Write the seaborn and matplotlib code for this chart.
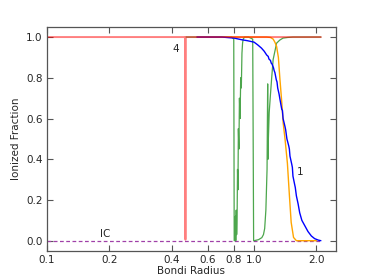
import numpy as np
import pandas as pd
import matplotlib
matplotlib.use("Agg")
import matplotlib.pyplot as plt
import matplotlib.ticker as mticker
import seaborn as sns

# ---- data ----
red_x = [0.1, 0.4655, 0.4662, 0.4669, 0.4676, 2.1]
red_y = [1.0, 1.0, 0.005, 0.005, 1.0, 1.0]

blue_x = [0.53, 0.70, 0.80, 0.87, 0.93, 1.0, 1.04, 1.085, 1.12, 1.15, 1.17, 1.18, 1.20, 1.21,
          1.22, 1.24, 1.25, 1.26, 1.28, 1.29, 1.30, 1.32, 1.33, 1.36, 1.37, 1.38, 1.41, 1.42,
          1.44, 1.47, 1.48, 1.49, 1.52, 1.53, 1.54, 1.57, 1.58, 1.60, 1.63, 1.66, 1.70,
          1.76, 1.82, 1.89, 1.96, 2.04, 2.1]
blue_y = [1.0, 1.0, 0.995, 0.987, 0.982, 0.975, 0.962, 0.946, 0.93, 0.912, 0.905, 0.892, 0.885, 0.872,
          0.868, 0.85, 0.835, 0.826, 0.79, 0.78, 0.75, 0.72, 0.70, 0.645, 0.64, 0.60, 0.56, 0.545,
          0.50, 0.465, 0.45, 0.415, 0.375, 0.36, 0.317, 0.275, 0.262, 0.22, 0.182, 0.137, 0.10,
          0.072, 0.045, 0.023, 0.01, 0.003, 0.0]

orange_x = [0.53, 1.15, 1.20, 1.236, 1.26, 1.284, 1.31, 1.331, 1.36, 1.381, 1.41, 1.448,
            1.481, 1.51, 1.55, 1.60, 2.0]
orange_y = [1.0, 1.0, 0.998, 0.99, 0.975, 0.954, 0.90, 0.80, 0.68, 0.58, 0.50, 0.38,
            0.22, 0.09, 0.016, 0.0, 0.0]

green_x = [0.47, 0.78, 0.798, 0.802, 0.806, 0.81, 0.813, 0.816, 0.82, 0.824, 0.828, 0.832,
           0.836, 0.84, 0.845, 0.85, 0.856, 0.862, 0.868, 0.874, 0.88, 0.886, 0.9, 0.94,
           0.985, 0.99, 0.995, 1.0, 1.05, 1.09, 1.11, 1.125, 1.14, 1.155, 1.163, 1.167,
           1.172, 1.183, 1.2, 1.214, 1.236, 1.26, 1.284, 1.33, 1.38, 1.45, 1.54, 2.1]
green_y = [1.0, 1.0, 0.99, 0.0, 0.0, 0.02, 0.12, 0.0, 0.15, 0.03, 0.1, 0.35,
           0.25, 0.55, 0.45, 0.7, 0.6, 0.8, 0.75, 0.92, 0.97, 0.99, 1.0, 1.0,
           0.99, 0.5, 0.0, 0.0, 0.005, 0.015, 0.03, 0.06, 0.15, 0.35, 0.77, 0.40,
           0.50, 0.63, 0.72, 0.79, 0.89, 0.93, 0.97, 0.985, 0.995, 0.998, 1.0, 1.0]

ic_x = [0.1, 2.1]
ic_y = [0.0, 0.0]

x_ticks = [0.1, 0.2, 0.4, 0.6, 0.8, 1.0, 2.0]
x_ticklabels = ["0.1", "0.2", "0.4", "0.6", "0.8", "1.0", "2.0"]
y_ticks = [0.0, 0.2, 0.4, 0.6, 0.8, 1.0]

sns.set_style("ticks")
plt.rcParams["font.family"] = ["DejaVu Sans"]
plt.rcParams["font.size"] = 7.5

fig = plt.figure(figsize=(3.74, 2.80), dpi=100)
ax = fig.add_axes([0.125, 0.104, 0.773, 0.8])

def draw(x, y, **kw):
    df = pd.DataFrame({"x": x, "y": y})
    sns.lineplot(data=df, x="x", y="y", sort=False, estimator=None, ax=ax, **kw)

draw(ic_x, ic_y, color="#a040a8", lw=0.9, linestyle=(0, (3, 2)))
draw(green_x, green_y, color="#118811", lw=0.9, alpha=0.75)
draw(orange_x, orange_y, color="#ffa500", lw=1.0)
draw(blue_x, blue_y, color="#0000ff", lw=1.0)
draw(red_x, red_y, color="#ff0000", lw=1.4, alpha=0.5)

ax.text(0.42, 0.94, "4", fontsize=7.5, ha="center", va="center")
ax.text(1.66, 0.335, "1", fontsize=7.5, ha="center", va="center")
ax.text(0.191, 0.035, "IC", fontsize=7.5, ha="center", va="center")

ax.set_xscale("log")
ax.set_xlim(0.1, 2.48)
ax.set_ylim(-0.05, 1.05)
ax.xaxis.set_major_locator(mticker.FixedLocator(x_ticks))
ax.xaxis.set_major_formatter(mticker.FixedFormatter(x_ticklabels))
ax.xaxis.set_minor_locator(mticker.NullLocator())
ax.set_yticks(y_ticks)
ax.set_yticklabels([f"{v:.1f}" for v in y_ticks])
ax.tick_params(direction="in", top=True, right=True, length=4, width=0.8,
               labelsize=7.5, pad=3, color="#555555")
for s in ax.spines.values():
    s.set_color("#555555")
    s.set_linewidth(0.9)
ax.set_xlabel("Bondi Radius", fontsize=7.5, labelpad=1)
ax.set_ylabel("Ionized Fraction", fontsize=7.5, labelpad=4)

fig.savefig("out.png", dpi=100)
